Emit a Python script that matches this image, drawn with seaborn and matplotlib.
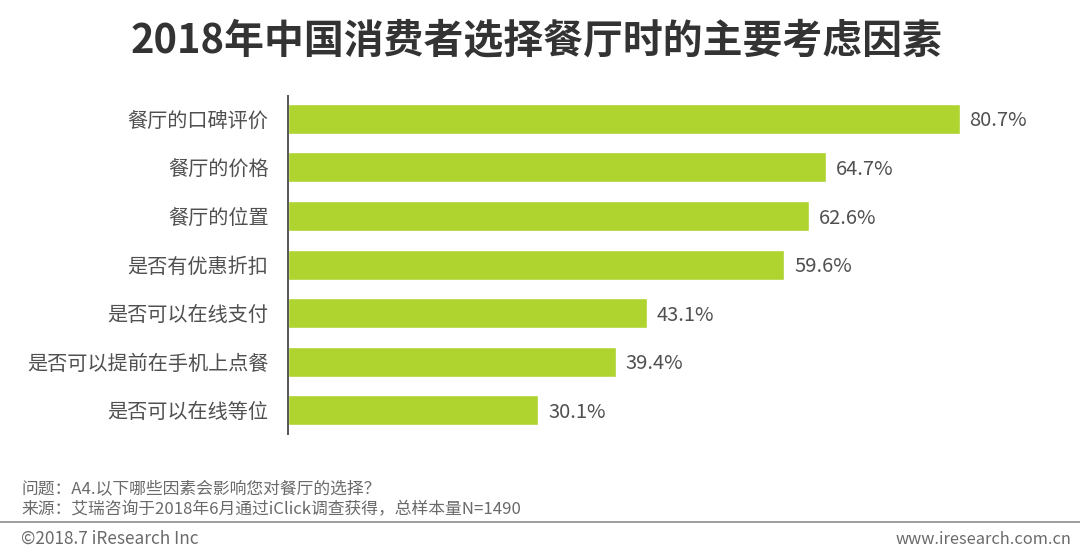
import matplotlib
matplotlib.use("Agg")
import matplotlib.pyplot as plt
import seaborn as sns
import pandas as pd

categories = ["餐厅的口碑评价", "餐厅的价格", "餐厅的位置", "是否有优惠折扣", "是否可以在线支付", "是否可以提前在手机上点餐", "是否可以在线等位"]
values = [80.7, 64.7, 62.6, 59.6, 43.1, 39.4, 30.1]
title = "2018年中国消费者选择餐厅时的主要考虑因素"
note1 = "问题：A4.以下哪些因素会影响您对餐厅的选择？"
note2 = "来源：艾瑞咨询于2018年6月通过iClick调查获得，总样本量N=1490"
footer_left = "©2018.7 iResearch Inc"
footer_right = "www.iresearch.com.cn"

sns.set_theme(style="white")
plt.rcParams['font.family'] = ['Noto Sans CJK SC', 'DejaVu Sans']
W, H = 1080, 559
fig = plt.figure(figsize=(W/100, H/100), dpi=100, facecolor="white")
ax = fig.add_axes([288/W, 1-434/H, (1080-288)/W, (434-96)/H])
df = pd.DataFrame({"c": categories, "v": values})
sns.barplot(data=df, y="c", x="v", color="#AFD32F", saturation=1, width=0.617, ax=ax)
ax.set_xlim(0, 80.7*(1080-288)/(959.5-288))
ax.set_ylim(6.487, -0.47)
ax.set_xlabel(""); ax.set_ylabel("")
ax.xaxis.set_visible(False)
for s in ["top", "right", "bottom"]:
    ax.spines[s].set_visible(False)
ax.spines["left"].set_color("#555555")
ax.spines["left"].set_linewidth(1.4)
ax.tick_params(axis="y", length=0, pad=14, labelsize=14.5, labelcolor="#505050")
for i, v in enumerate(values):
    ax.annotate(f"{v}%", (v, i), xytext=(10, -2), textcoords="offset pixels",
                va="center", ha="left", fontsize=14.5, color="#505050")
fig.text(536/W, 1-42/H, title, ha="center", va="center", fontsize=28.7, fontweight="bold", color="#333333")
fig.text(21/W, 1-490/H, note1, ha="left", va="center", fontsize=12.1, color="#6A6A6A")
fig.text(21/W, 1-510/H, note2, ha="left", va="center", fontsize=12.1, color="#6A6A6A")
fig.add_artist(plt.Line2D([0, 1], [1-522/H, 1-522/H], color="#8C8C8C", lw=1.2))
fig.text(21/W, 1-539/H, footer_left, ha="left", va="center", fontsize=12.4, color="#6A6A6A")
fig.text(1071/W, 1-539/H, footer_right, ha="right", va="center", fontsize=11.8, color="#6A6A6A")
fig.savefig("out.png", dpi=100)
